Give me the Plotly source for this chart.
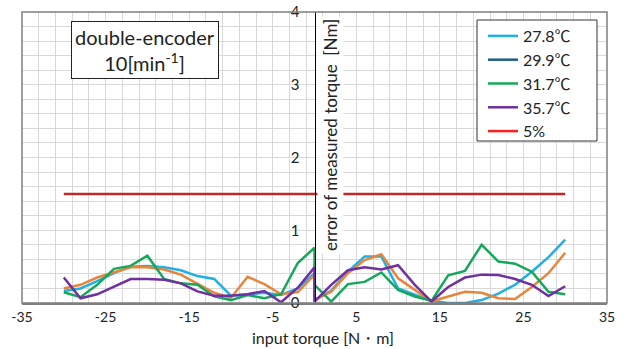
import plotly.graph_objects as go

torque = [-30, -28, -26, -24, -22, -20, -18, -16, -14, -12, -10, -8, -6, -4, -2, 0,
          0, 2, 4, 6, 8, 10, 12, 14, 16, 18, 20, 22, 24, 26, 28, 30]

err_27_8 = [0.165, 0.20, 0.30, 0.41, 0.50, 0.51, 0.49, 0.45, 0.37, 0.33, 0.10, 0.12, 0.14, 0.11, 0.20, 0.41,
            0.04, 0.17, 0.43, 0.64, 0.64, 0.20, 0.11, 0.03, 0.00, 0.00, 0.04, 0.13, 0.25, 0.43, 0.63, 0.87]
err_29_9 = [0.20, 0.25, 0.35, 0.42, 0.49, 0.49, 0.46, 0.39, 0.27, 0.14, 0.07, 0.36, 0.26, 0.12, 0.15, 0.39,
            0.04, 0.155, 0.41, 0.59, 0.67, 0.34, 0.18, 0.02, 0.09, 0.155, 0.14, 0.065, 0.055, 0.22, 0.41, 0.69]
err_31_7 = [0.147, 0.08, 0.25, 0.47, 0.51, 0.65, 0.33, 0.27, 0.25, 0.09, 0.04, 0.11, 0.065, 0.12, 0.55, 0.76,
            0.25, 0.02, 0.26, 0.29, 0.42, 0.18, 0.09, 0.03, 0.38, 0.44, 0.80, 0.57, 0.54, 0.43, 0.155, 0.12]
err_35_7 = [0.35, 0.065, 0.12, 0.22, 0.33, 0.33, 0.32, 0.27, 0.16, 0.10, 0.10, 0.12, 0.165, 0.01, 0.21, 0.49,
            0.02, 0.25, 0.45, 0.49, 0.46, 0.52, 0.25, 0.02, 0.22, 0.35, 0.39, 0.385, 0.33, 0.25, 0.095, 0.23]

limit_x = [-30, 30]
limit_y = [1.5, 1.5]

x_ticks = [-35, -25, -15, -5, 5, 15, 25, 35]
y_ticks = [0, 1, 2, 3, 4]

FONT = "Lato"
W = 2.5
DEG = '<span style="font-family:Noto Sans CJK JP">℃</span>'

fig = go.Figure()
fig.add_trace(go.Scatter(x=torque, y=err_27_8, mode="lines", name="27.8" + DEG,
                         line=dict(color="#1FB0E6", width=W), legendrank=1))
fig.add_trace(go.Scatter(x=torque, y=err_29_9, mode="lines", name="29.9 data",
                         line=dict(color="#E8853D", width=W), showlegend=False))
fig.add_trace(go.Scatter(x=[None], y=[None], mode="lines", name="29.9" + DEG,
                         line=dict(color="#215C8C", width=W), legendrank=2))
fig.add_trace(go.Scatter(x=torque, y=err_31_7, mode="lines", name="31.7" + DEG,
                         line=dict(color="#16A85A", width=W), legendrank=3))
fig.add_trace(go.Scatter(x=torque, y=err_35_7, mode="lines", name="35.7" + DEG,
                         line=dict(color="#7030A0", width=W), legendrank=4))
fig.add_trace(go.Scatter(x=limit_x, y=limit_y, mode="lines", name="5% limit",
                         line=dict(color="#C0282A", width=W), showlegend=False))
fig.add_trace(go.Scatter(x=[None], y=[None], mode="lines", name="5%",
                         line=dict(color="#FF2020", width=W), legendrank=5))

grid = "#D9D9D9"
fig.update_layout(
    width=629, height=349,
    margin=dict(l=22, r=22, t=12, b=46),
    paper_bgcolor="white", plot_bgcolor="white",
    font=dict(family=FONT, color="#222222", size=14),
    xaxis=dict(range=[-35, 35], tickvals=x_ticks, ticktext=[str(v) for v in x_ticks],
               showgrid=True, gridcolor=grid, gridwidth=1, automargin=False,
               minor=dict(tick0=-35, dtick=2, showgrid=True, gridcolor=grid, gridwidth=1),
               showline=True, linecolor="#7F7F7F", linewidth=1.5, zeroline=False,
               ticks="", tickfont=dict(size=14, family=FONT)),
    yaxis=dict(range=[0, 4], tickvals=y_ticks, anchor="free", position=0.5,
               showgrid=True, gridcolor=grid, gridwidth=1, automargin=False,
               minor=dict(dtick=0.2, showgrid=True, gridcolor=grid, gridwidth=1),
               showline=True, linecolor="#000000", linewidth=1, zeroline=False,
               ticks="", ticklabelstandoff=12, tickfont=dict(size=15, family=FONT)),
    legend=dict(x=0.788, y=0.976, xanchor="left", yanchor="top",
                bgcolor="rgba(0,0,0,0)", borderwidth=0,
                font=dict(size=16, family=FONT), tracegroupgap=0,
                itemwidth=30),
    showlegend=True,
)

fig.add_shape(type="rect", xref="paper", yref="paper", x0=0, y0=0, x1=1, y1=1,
              line=dict(color="#7F7F7F", width=1.5), layer="above")
# legend frame
fig.add_shape(type="rect", xref="paper", yref="paper", x0=0.7778, y0=0.5567, x1=0.9829, y1=0.9725,
              line=dict(color="#333333", width=1), fillcolor="white", layer="above")

fig.add_annotation(text="error of measured torque  [Nm]", xref="paper", yref="paper",
                   x=0.5034, y=0.577, xanchor="left", yanchor="middle", textangle=-90,
                   showarrow=False, bgcolor="white", borderpad=2,
                   font=dict(size=17, family=FONT, color="#222222"))
fig.add_annotation(text="input torque [N・m]", xref="paper", yref="paper",
                   x=0.5145, y=-0.117, xanchor="center", yanchor="middle",
                   showarrow=False, font=dict(size=16, family=FONT, color="#222222"))
fig.add_annotation(text="double-encoder<br>10[min<sup>-1</sup>]", xref="paper", yref="paper",
                   x=0.21, y=0.869, xanchor="center", yanchor="middle",
                   showarrow=False, bgcolor="white", bordercolor="#222222", borderwidth=1,
                   borderpad=3, align="center",
                   font=dict(size=20, family=FONT, color="#222222"))

fig.write_html("out.html")
